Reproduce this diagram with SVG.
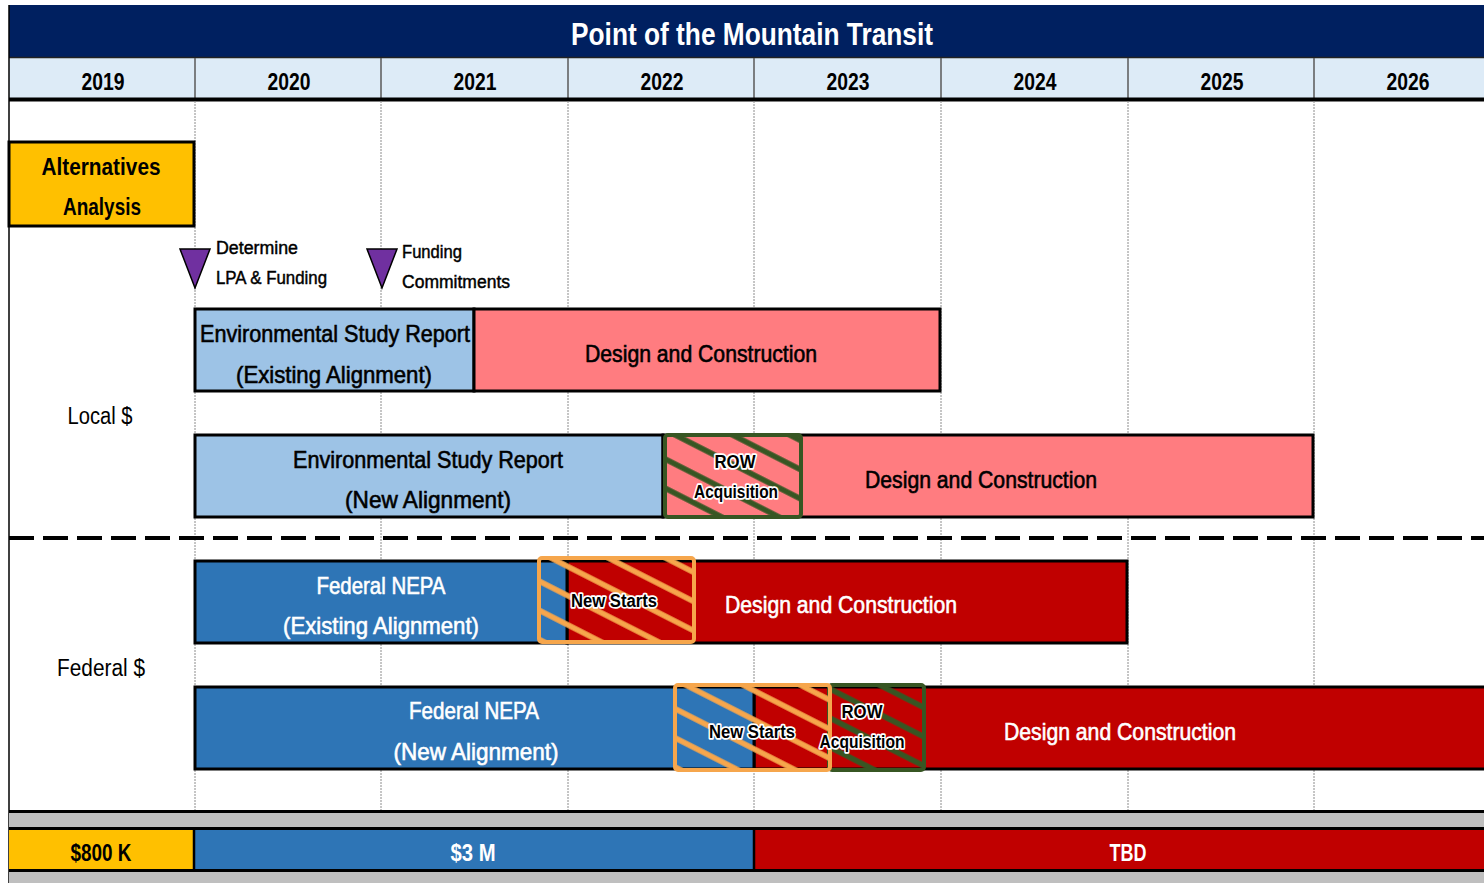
<svg xmlns="http://www.w3.org/2000/svg" width="1484" height="883" viewBox="0 0 1484 883">
<style>
.t{font-family:"Liberation Sans Narrow","Liberation Sans",Arial,sans-serif;text-anchor:middle}
.lbl{font-size:24px;stroke-width:0.6}
.blk{fill:#000;stroke:#000}
.wht{fill:#fff;stroke:#fff}
.fund{font-weight:bold;stroke-width:0}
.yr{font-size:23px;font-weight:bold;fill:#000}
.sm{font-size:18px;fill:#000;text-anchor:start;stroke:#000;stroke-width:0.45}
.halo{font-size:18px;font-weight:bold;fill:#000;stroke:#fff;stroke-width:3.5;paint-order:stroke;stroke-linejoin:round}
.bar{stroke:#000;stroke-width:3}
.grid{stroke:#8c8c8c;stroke-width:1;stroke-dasharray:2 1}
.sep{stroke:#595959;stroke-width:1.5}
</style>
<defs>
<pattern id="hg" patternUnits="userSpaceOnUse" width="20" height="26" patternTransform="rotate(27)">
<line x1="0" y1="3" x2="20" y2="3" stroke="#375623" stroke-width="5.5"/>
</pattern>
<pattern id="ho" patternUnits="userSpaceOnUse" width="20" height="26" patternTransform="rotate(27) translate(0,10)">
<line x1="0" y1="3" x2="20" y2="3" stroke="#F6A64C" stroke-width="5.5"/>
</pattern>
</defs>
<rect x="0" y="0" width="1484" height="883" fill="#fff"/>

<g id="header">
<rect x="9" y="5" width="1475" height="52" fill="#002060"/>
<text class="t" x="752" y="45" font-size="31" font-weight="bold" fill="#fff" textLength="362" lengthAdjust="spacingAndGlyphs">Point of the Mountain Transit</text>
<rect x="9" y="57" width="1475" height="41" fill="#DDEBF7"/>
<line x1="9" y1="57.5" x2="1484" y2="57.5" stroke="#222" stroke-width="1.5"/>
<g class="sep">
<line x1="195" y1="58" x2="195" y2="98"/><line x1="381" y1="58" x2="381" y2="98"/><line x1="568" y1="58" x2="568" y2="98"/><line x1="754" y1="58" x2="754" y2="98"/><line x1="941" y1="58" x2="941" y2="98"/><line x1="1128" y1="58" x2="1128" y2="98"/><line x1="1314" y1="58" x2="1314" y2="98"/>
</g>
<line x1="9" y1="99.5" x2="1484" y2="99.5" stroke="#000" stroke-width="4"/>
<g class="t yr">
<text x="103" y="90" textLength="43" lengthAdjust="spacingAndGlyphs">2019</text>
<text x="289" y="90" textLength="43" lengthAdjust="spacingAndGlyphs">2020</text>
<text x="475" y="90" textLength="43" lengthAdjust="spacingAndGlyphs">2021</text>
<text x="662" y="90" textLength="43" lengthAdjust="spacingAndGlyphs">2022</text>
<text x="848" y="90" textLength="43" lengthAdjust="spacingAndGlyphs">2023</text>
<text x="1035" y="90" textLength="43" lengthAdjust="spacingAndGlyphs">2024</text>
<text x="1222" y="90" textLength="43" lengthAdjust="spacingAndGlyphs">2025</text>
<text x="1408" y="90" textLength="43" lengthAdjust="spacingAndGlyphs">2026</text>
</g>
</g>

<g id="grid" class="grid">
<line x1="195" y1="101" x2="195" y2="810"/><line x1="381" y1="101" x2="381" y2="810"/><line x1="568" y1="101" x2="568" y2="810"/><line x1="754" y1="101" x2="754" y2="810"/><line x1="941" y1="101" x2="941" y2="810"/><line x1="1128" y1="101" x2="1128" y2="810"/><line x1="1314" y1="101" x2="1314" y2="810"/>
</g>
<line x1="9" y1="5" x2="9" y2="883" stroke="#000" stroke-width="1.5"/>

<g id="alternatives">
<rect class="bar" x="9" y="142" width="185" height="84" fill="#FFC000"/>
<text class="t" x="101" y="175" font-size="24" font-weight="bold" fill="#000" textLength="119" lengthAdjust="spacingAndGlyphs">Alternatives</text>
<text class="t" x="102" y="215" font-size="24" font-weight="bold" fill="#000" textLength="78" lengthAdjust="spacingAndGlyphs">Analysis</text>
</g>

<g id="milestone-lpa">
<polygon points="180,249 210,249 195,288" fill="#7030A0" stroke="#000" stroke-width="1.5"/>
<text class="t sm" x="216" y="254" textLength="82" lengthAdjust="spacingAndGlyphs">Determine</text>
<text class="t sm" x="216" y="284" textLength="111" lengthAdjust="spacingAndGlyphs">LPA &amp; Funding</text>
</g>
<g id="milestone-funding">
<polygon points="367,249 397,249 382,288" fill="#7030A0" stroke="#000" stroke-width="1.5"/>
<text class="t sm" x="402" y="258" textLength="60" lengthAdjust="spacingAndGlyphs">Funding</text>
<text class="t sm" x="402" y="288" textLength="108" lengthAdjust="spacingAndGlyphs">Commitments</text>
</g>

<text class="t" x="100" y="424" font-size="23" fill="#000" textLength="65" lengthAdjust="spacingAndGlyphs">Local $</text>
<text class="t" x="101" y="676" font-size="23" fill="#000" textLength="88" lengthAdjust="spacingAndGlyphs">Federal $</text>

<g id="row1">
<rect class="bar" x="195" y="309" width="279" height="82" fill="#9DC3E6"/>
<rect class="bar" x="474" y="309" width="466" height="82" fill="#FF7C80"/>
<text class="t lbl blk" x="335" y="342" textLength="270" lengthAdjust="spacingAndGlyphs">Environmental Study Report</text>
<text class="t lbl blk" x="334" y="383" textLength="196" lengthAdjust="spacingAndGlyphs">(Existing Alignment)</text>
<text class="t lbl blk" x="701" y="362" textLength="232" lengthAdjust="spacingAndGlyphs">Design and Construction</text>
</g>

<g id="row2">
<rect class="bar" x="195" y="435" width="468" height="82" fill="#9DC3E6"/>
<rect class="bar" x="663" y="435" width="650" height="82" fill="#FF7C80"/>
<text class="t lbl blk" x="428" y="468" textLength="270" lengthAdjust="spacingAndGlyphs">Environmental Study Report</text>
<text class="t lbl blk" x="428" y="508" textLength="166" lengthAdjust="spacingAndGlyphs">(New Alignment)</text>
<text class="t lbl blk" x="981" y="488" textLength="232" lengthAdjust="spacingAndGlyphs">Design and Construction</text>
<g id="row2-row">
<rect x="665" y="435" width="136" height="82" fill="url(#hg)"/>
<rect x="665" y="435" width="136" height="82" rx="3" fill="none" stroke="#375623" stroke-width="4"/>
<text class="t halo" x="735" y="468" textLength="41" lengthAdjust="spacingAndGlyphs">ROW</text>
<text class="t halo" x="736" y="498" textLength="84" lengthAdjust="spacingAndGlyphs">Acquisition</text>
</g>
</g>

<g id="divider">
<line x1="9" y1="538" x2="1484" y2="538" stroke="#000" stroke-width="4" stroke-dasharray="25 9"/>
</g>

<g id="row3">
<rect class="bar" x="567" y="561" width="560" height="82" fill="#C00000"/>
<rect class="bar" x="195" y="561" width="372" height="82" fill="#2E75B6"/>
<text class="t lbl wht" x="381" y="594" textLength="129" lengthAdjust="spacingAndGlyphs">Federal NEPA</text>
<text class="t lbl wht" x="381" y="634" textLength="196" lengthAdjust="spacingAndGlyphs">(Existing Alignment)</text>
<text class="t lbl wht" x="841" y="613" textLength="232" lengthAdjust="spacingAndGlyphs">Design and Construction</text>
<g id="row3-ns">
<rect x="539" y="558" width="155" height="84" fill="url(#ho)"/>
<rect x="539" y="558" width="155" height="84" rx="3" fill="none" stroke="#F6A64C" stroke-width="4"/>
<text class="t halo" x="614" y="607" textLength="86" lengthAdjust="spacingAndGlyphs">New Starts</text>
</g>
</g>

<g id="row4">
<rect class="bar" x="754" y="687" width="740" height="82" fill="#C00000"/>
<rect class="bar" x="195" y="687" width="559" height="82" fill="#2E75B6"/>
<text class="t lbl wht" x="474" y="719" textLength="130" lengthAdjust="spacingAndGlyphs">Federal NEPA</text>
<text class="t lbl wht" x="476" y="760" textLength="165" lengthAdjust="spacingAndGlyphs">(New Alignment)</text>
<text class="t lbl wht" x="1120" y="740" textLength="232" lengthAdjust="spacingAndGlyphs">Design and Construction</text>
<g id="row4-row">
<rect x="829" y="685" width="95" height="85" fill="url(#hg)"/>
<rect x="829" y="685" width="95" height="85" rx="3" fill="none" stroke="#375623" stroke-width="4"/>
</g>
<g id="row4-ns">
<rect x="675" y="685" width="155" height="85" fill="url(#ho)"/>
<rect x="675" y="685" width="155" height="85" rx="3" fill="none" stroke="#F6A64C" stroke-width="4"/>
<text class="t halo" x="752" y="738" textLength="86" lengthAdjust="spacingAndGlyphs">New Starts</text>
</g>
<text class="t halo" x="862" y="718" textLength="41" lengthAdjust="spacingAndGlyphs">ROW</text>
<text class="t halo" x="862" y="748" textLength="85" lengthAdjust="spacingAndGlyphs">Acquisition</text>
</g>

<g id="funding">
<line x1="9" y1="811.5" x2="1484" y2="811.5" stroke="#000" stroke-width="3"/>
<rect x="9" y="813" width="1475" height="14" fill="#BFBFBF"/>
<rect x="9" y="829" width="185" height="41" fill="#FFC000"/>
<rect x="194" y="829" width="560" height="41" fill="#2E75B6"/>
<rect x="754" y="829" width="730" height="41" fill="#C00000"/>
<line x1="9" y1="828.5" x2="1484" y2="828.5" stroke="#000" stroke-width="3"/>
<line x1="9" y1="870.5" x2="1484" y2="870.5" stroke="#000" stroke-width="3"/>
<line x1="194" y1="829" x2="194" y2="870" stroke="#000" stroke-width="2.5"/>
<line x1="754" y1="829" x2="754" y2="870" stroke="#000" stroke-width="2.5"/>
<rect x="9" y="872" width="1475" height="11" fill="#BFBFBF"/>
<text class="t lbl blk fund" x="101" y="861" textLength="61" lengthAdjust="spacingAndGlyphs">$800 K</text>
<text class="t lbl wht fund" x="473" y="861" textLength="45" lengthAdjust="spacingAndGlyphs">$3 M</text>
<text class="t lbl wht fund" x="1128" y="861" textLength="37" lengthAdjust="spacingAndGlyphs">TBD</text>
</g>
</svg>
